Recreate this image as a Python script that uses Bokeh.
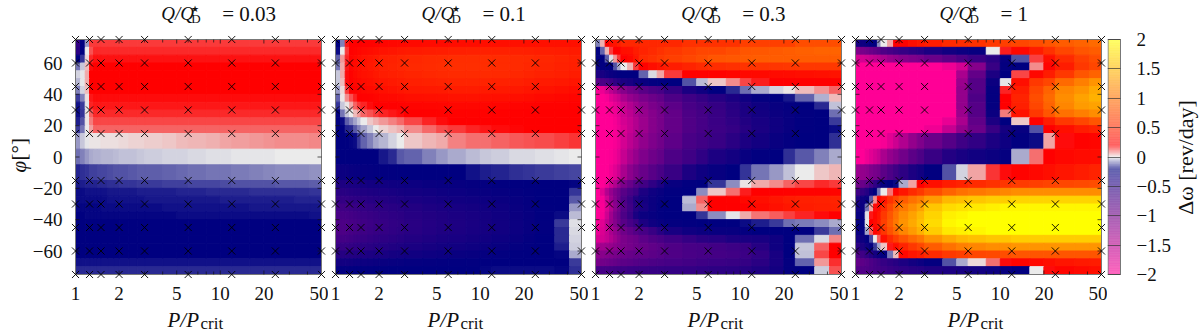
import math
import numpy as np
from bokeh.embed import file_html
from bokeh.layouts import row
from bokeh.models import ColumnDataSource, FixedTicker, Label, LinearColorMapper, Range1d
from bokeh.plotting import figure
from bokeh.resources import INLINE

# simulation nodes
P_nodes = [1, 1.25, 1.5, 2, 3, 6, 12, 24, 50]
phi_nodes = [-75, -60, -45, -30, -15, 15, 30, 45, 60, 75]
x_tick_labels = {1: "1", 2: "2", 5: "5", 10: "10", 20: "20", 50: "50"}
y_tick_labels = {-60: "\u221260", -40: "\u221240", -20: "\u221220", 0: "0", 20: "20", 40: "40", 60: "60"}
cb_tick_labels = {-2: "\u22122", -1.5: "\u22121.5", -1: "\u22121", -0.5: "\u22120.5", 0: "0", 0.5: "0.5", 1: "1", 1.5: "1.5", 2: "2"}
Q_labels = ["0.03", "0.1", "0.3", "1"]

# colour anchors (value, r, g, b)
cm_v = [-2, -0.2, 0, 0.2, 2]
cm_r = [255, 0, 235, 255, 255]
cm_g = [0, 0, 235, 0, 255]
cm_b = [150, 128, 235, 0, 0]

# delta-omega in 1/1000 rev/day, rows from phi=75 (top) to phi=-75, columns from P=1 to P=50
Q003 = [
 [-550,-210,-70]+[150]*21,
 [-500,-200,0,130]+[165]*20,
 [-200,-157,15,165]+[185]*20,
 [-100,-30,40,190]+[200]*20,
 [-20,-5,55,200]+[200]*20,
 [-47,-3,55,200]+[200]*20,
 [-90,-20,40,200]+[200]*20,
 [-150,-90,12,180]+[190]*20,
 [-187,-150,-3,170]+[180]*20,
 [-190,-157,3,120]+[165]*20,
 [-175,-130,3,95]+[140]*20,
 [-150,-100,-2,65]+[115]*20,
 [-72,-30,-4,5,5,5,8,10,12,15,18,20,25,32,38,45,52,58,64,70,74,78,82,85],
 [-106,-89,-72,-55,-52,-50,-47,-44,-41,-37,-33,-30,-26,-22,-18,-15,-11,-8,-6,-4,-3,-2,-1,0],
 [-170,-162,-153,-145,-143,-141,-138,-135,-132,-128,-125,-122,-118,-114,-110,-106,-102,-98,-94,-90,-86,-82,-78,-75],
 [-178,-175,-172,-170,-168,-166,-164,-162,-160,-157,-155,-152,-149,-146,-143,-140,-138,-135,-132,-130,-128,-126,-124,-122],
 [-190,-188,-187,-186,-185,-184,-183,-182,-181,-180,-178,-177,-175,-173,-171,-169,-167,-165,-163,-161,-160,-159,-158,-157],
 [-192,-191,-190,-190,-189,-189,-188,-187,-186,-185,-184,-183,-182,-181,-180,-179,-178,-177,-176,-175,-174,-173,-172,-171],
 [-195,-195,-194,-194,-193,-193,-192,-192,-191,-191,-190,-189,-188,-187,-186,-185,-184,-183,-183,-182,-181,-180,-180,-179],
 [-198,-198,-197,-197,-197,-196,-196,-195,-195,-195,-194,-194,-193,-193,-192,-192,-191,-190,-190,-189,-189,-188,-188,-187],
 [-200]*24,
 [-200]*24,
 [-200]*24,
 [-200]*24,
 [-200]*24,
 [-183]*24,
 [-165]*24,
]
Q01 = [
 [-200,-90,180,200,200,200,210,220,230,240,250,260,270,280,280,290,290,300,300,310,310,320,320,320],
 [-190,0,150,210,230,250,270,290,310,330,350,370,390,400,410,420,430,430,430,430,420,410,400,390],
 [-120,70,170,230,270,300,330,360,390,420,440,460,480,500,510,520,520,520,510,500,490,470,450,430],
 [-100,55,180,230,280,310,340,370,400,430,450,470,490,510,520,530,530,520,510,500,480,460,440,420],
 [-30,55,190,220,270,300,320,340,370,400,420,440,460,480,490,500,500,500,490,480,460,440,420,400],
 [-30,40,190,220,250,270,290,310,340,360,380,400,420,440,450,460,460,450,440,430,410,390,370,350],
 [-65,15,150,200,220,230,250,270,290,310,330,350,370,380,390,400,400,390,380,370,350,330,310,290],
 [-115,5,80,130,170,200,210,220,240,260,270,280,300,310,320,330,330,320,310,300,290,270,250,240],
 [-157,-30,5,55,115,150,170,190,200,205,210,220,230,240,245,250,250,245,240,230,225,220,215,210],
 [-200,-100,-30,0,40,70,115,130,150,170,180,190,205,210,215,220,220,215,210,210,205,205,205,205],
 [-200,-190,-120,-90,-60,-30,0,30,50,70,90,110,140,170,190,200,200,205,205,205,205,205,205,205],
 [-200,-200,-170,-165,-125,-90,-60,-30,0,20,35,50,80,110,135,150,170,180,190,195,200,200,200,200],
 [-200,-200,-200,-195,-190,-150,-115,-90,-60,-45,-20,0,30,45,55,90,105,105,115,125,130,135,145,155],
 [-200]*9+[-180,-165,-125,-115,-90,-72,-55,-38,-30,-25,-17,-13,-9,-4,0],
 [-300,-290,-280,-270,-260,-250,-240,-230,-225,-220,-215,-210,-205,-205,-200,-200,-187,-174,-170,-162,-157,-149,-145,-140],
 [-420,-410,-400,-390,-380,-370,-355,-340,-330,-320,-310,-300,-285,-270,-260,-250,-240,-230,-220,-210,-205,-200,-200,-195],
 [-500,-490,-480,-465,-450,-440,-425,-410,-400,-385,-370,-355,-340,-320,-300,-285,-270,-260,-245,-230,-215,-200,-200,-157],
 [-580,-570,-560,-545,-530,-515,-500,-480,-465,-445,-430,-410,-390,-365,-345,-325,-310,-295,-275,-250,-230,-205,-200,-125],
 [-660,-650,-640,-620,-600,-585,-565,-545,-525,-505,-485,-465,-440,-410,-385,-365,-345,-325,-300,-270,-240,-210,-200,-72],
 [-720,-710,-700,-680,-660,-640,-620,-600,-575,-550,-530,-505,-475,-445,-420,-395,-370,-345,-315,-280,-250,-215,-190,-38],
 [-760,-750,-735,-715,-695,-675,-650,-625,-600,-575,-550,-525,-495,-460,-430,-405,-380,-355,-325,-290,-255,-220,-150,-10],
 [-760,-745,-725,-705,-685,-665,-640,-615,-590,-565,-540,-515,-485,-450,-425,-400,-375,-350,-320,-285,-250,-215,-165,-15],
 [-700,-685,-670,-650,-630,-610,-590,-565,-545,-520,-500,-475,-445,-415,-390,-370,-345,-320,-295,-265,-235,-205,-165,-20],
 [-600,-590,-575,-560,-540,-525,-505,-490,-470,-450,-430,-410,-385,-360,-340,-320,-300,-280,-260,-235,-215,-200,-175,-25],
 [-480,-470,-460,-450,-440,-425,-410,-400,-385,-370,-355,-340,-320,-300,-285,-270,-255,-240,-225,-210,-200,-200,-195,-55],
 [-340,-335,-330,-320,-310,-305,-295,-285,-280,-270,-260,-250,-240,-230,-225,-220,-215,-210,-205,-200,-200,-200,-200,-150],
 [-240,-235,-230,-225,-220,-220,-215,-215,-210,-210,-205,-205,-200,-200,-200,-200,-200,-195,-190,-190,-190,-190,-195,-160],
]
Q03 = [
 [-90,50,200,300,350,400,480,480,480,480,480,480,480,550,550,550,550,650,650,650,650,750,750,750],
 [-200,-115,45,150,200,210,300,320,400,450,500,550,600,650,700,700,750,800,820,840,860,880,900,900],
 [-210,-200,-120,-10,70,150,200,250,350,500,550,600,650,700,750,800,820,840,850,850,850,850,850,850],
 [-250,-215,-200,-200,-130,-60,0,50,150,220,300,350,400,450,500,520,540,560,570,580,590,600,600,600],
 [-400,-370,-310,-280,-260,-230,-200,-200,-200,-115,-15,60,150,210,215,220,240,260,270,280,290,300,320,340],
 [-825,-750,-695,-630,-535,-470,-400,-370,-310,-260,-230,-215,-200,-130,-40,30,80,140,175,200,200,200,205,210],
 [-1975,-1875,-1700,-1535,-1400,-1265,-1140,-1025,-965,-825,-750,-695,-570,-385,-310,-200,-165,-105,-55,-20,5,40,75,115],
 [-2000,-2000,-1950,-1800,-1700,-1600,-1400,-1265,-1175,-1060,-965,-885,-750,-650,-570,-470,-385,-310,-230,-200,-180,-115,-50,40],
 [-2000,-2000,-2000,-1950,-1840,-1750,-1600,-1465,-1335,-1200,-1075,-990,-855,-710,-650,-570,-470,-385,-310,-260,-230,-200,-165,-35],
 [-2000,-2000,-2000,-1975,-1910,-1800,-1650,-1535,-1400,-1265,-1140,-1035,-900,-750,-680,-600,-500,-400,-340,-280,-250,-215,-200,-105],
 [-2000,-2000,-2000,-2000,-1950,-1840,-1700,-1600,-1465,-1305,-1150,-1050,-910,-765,-695,-615,-535,-435,-370,-310,-260,-215,-200,-150],
 [-2000,-2000,-2000,-2000,-1960,-1875,-1750,-1600,-1465,-1305,-1150,-1050,-910,-765,-695,-630,-570,-470,-385,-310,-260,-215,-200,-190],
 [-2000,-2000,-2000,-2000,-1960,-1875,-1700,-1535,-1400,-1225,-1100,-1000,-870,-720,-665,-600,-500,-400,-340,-270,-230,-200,-200,-160],
 [-2000,-2000,-2000,-1975,-1910,-1800,-1600,-1400,-1265,-1100,-990,-900,-750,-650,-535,-400,-340,-260,-215,-200,-160,-125,-90,-55],
 [-2000,-2000,-2000,-1910,-1800,-1650,-1400,-1200,-1075,-940,-825,-720,-600,-400,-310,-250,-200,-157,-100,-72,-33,0,30,45],
 [-2000,-2000,-1875,-1650,-1465,-1265,-1075,-940,-795,-665,-535,-400,-260,-215,-200,-155,-80,5,55,80,115,140,165,150],
 [-2000,-1800,-1465,-1265,-1100,-990,-825,-710,-630,-400,-310,-260,-215,-200,-80,30,105,175,200,205,210,215,220,230],
 [-2000,-1950,-1650,-1335,-1140,-965,-750,-615,-435,-340,-280,-230,-200,-40,115,200,210,250,300,350,400,420,440,450],
 [-2000,-1975,-1750,-1465,-1200,-1025,-795,-650,-470,-370,-280,-215,-200,-55,80,200,200,210,270,320,360,400,420,430],
 [-2000,-1950,-1650,-1335,-1100,-965,-750,-600,-385,-280,-250,-215,-200,-200,-155,-80,-5,55,100,120,145,170,190,200],
 [-1975,-1800,-1535,-1305,-1140,-990,-825,-710,-615,-400,-310,-260,-230,-215,-200,-200,-200,-190,-175,-150,-105,-95,-80,-55],
 [-1875,-1750,-1600,-1400,-1265,-1140,-990,-885,-795,-695,-600,-470,-370,-310,-280,-260,-250,-230,-200,-200,-200,-200,-150,-105],
 [-1750,-1700,-1600,-1465,-1335,-1200,-1075,-1010,-965,-855,-765,-710,-650,-570,-500,-470,-400,-385,-370,-310,-200,-105,-15,85],
 [-1400,-1350,-1300,-1260,-1200,-1140,-1075,-1030,-980,-930,-880,-830,-760,-710,-695,-665,-630,-600,-470,-310,-200,-30,115,200],
 [-1200,-1170,-1130,-1090,-1050,-1010,-960,-930,-900,-880,-850,-810,-760,-720,-700,-680,-660,-620,-540,-370,-200,-35,140,200],
 [-1050,-1010,-980,-950,-920,-890,-850,-830,-800,-770,-740,-720,-700,-670,-640,-620,-600,-570,-500,-370,-230,-115,70,160],
 [-710,-700,-690,-680,-670,-650,-640,-620,-610,-600,-590,-580,-570,-560,-540,-520,-510,-480,-420,-340,-230,-200,-25,130],
]
Q1 = [
 [-350,-300,-250,-220,-200,-80,0,60,200,220,300,350,400,500,520,550,600,650,700,750,800,850,900,950],
 [-1100,-1050,-1000,-950,-900,-850,-750,-700,-650,-580,-520,-480,-400,-330,-290,-250,0,175,250,400,550,700,800,850],
 [-1700,-1700,-1650,-1600,-1550,-1500,-1400,-1300,-1250,-1150,-1100,-1050,-950,-850,-750,-620,-500,-250,-130,145,300,500,650,750],
 [-2000]*13+[-1900,-1700,-1150,-600,-230,-200,80,230,400,600,700],
 [-2000]*14+[-1400,-900,-400,-200,140,250,400,600,800,900],
 [-2000]*14+[-1300,-800,-280,-5,300,600,700,950,1100,1250],
 [-2000]*14+[-1250,-800,-240,170,400,700,900,1150,1250,1400],
 [-2000]*14+[-1250,-750,-230,200,450,750,950,1200,1350,1450],
 [-2000]*14+[-1250,-800,-240,205,420,700,900,1150,1300,1350],
 [-2000]*14+[-1300,-800,-280,95,330,600,800,1000,1100,1200],
 [-2000]*13+[-1850,-1400,-880,-400,-200,30,210,400,600,700,800],
 [-2000]*12+[-1900,-1600,-1250,-950,-600,-350,-250,-130,200,300,400,450],
 [-2000]*6+[-1950,-1800,-1650,-1450,-1250,-1100,-950,-800,-650,-550,-400,-300,-220,-190,60,190,220,240],
 [-2000,-2000,-1900,-1800,-1700,-1600,-1400,-1250,-1150,-1000,-850,-750,-600,-450,-380,-320,-280,-240,-55,105,200,250,280,290],
 [-1300,-1250,-1200,-1100,-1050,-1000,-850,-750,-650,-520,-400,-320,-220,-130,-20,60,155,190,220,260,300,350,400,450],
 [-1000,-950,-850,-700,-550,-400,-250,-200,-190,-55,60,200,300,400,450,500,550,580,620,650,680,700,720,750],
 [-650,-550,-450,-300,-200,-100,0,100,220,350,500,600,750,900,1000,1050,1100,1150]+[1200]*6,
 [-400,-300,-250,-120,80,200,350,550,700,850,1000,1100,1300,1500,1550,1600,1650,1650]+[1700]*6,
 [-320,-280,-100,60,190,280,500,700,900,1050,1200,1350,1600,1750,1800,1850,1900]+[1950]*7,
 [-260,-230,-10,180,250,350,600,800,1000,1200,1350,1500,1700,1900,1950]+[2000]*9,
 [-250,-220,-5,200,280,380,650,850,1050,1250,1400,1550,1750,1950]+[2000]*10,
 [-280,-240,-60,120,220,320,580,780,950,1150,1300,1450,1650,1850,1900,1950]+[2000]*8,
 [-350,-300,-220,-140,0,120,300,500,650,800,950,1050,1250,1400,1500,1550,1600,1600]+[1650]*6,
 [-500,-400,-300,-230,-150,-60,30,180,300,450,600,700,850,1000,1100,1150,1200,1200]+[1250]*6,
 [-750,-650,-550,-450,-350,-280,-220,-100,40,250,350,400,500,600,650,700,720,750]+[800]*6,
 [-900,-850,-800,-750,-700,-650,-580,-520,-480,-400,-340,-290,-230,-130,-55,15,105,190,230,270,300,350,380,400],
 [-800,-780,-760,-730,-700,-680,-640,-600,-570,-530,-490,-470,-430,-400,-370,-340,-300,-260,-220,0,190,230,270,300],
]
panels = [Q003, Q01, Q03, Q1]
for m in panels:
    assert len(m) == 27, len(m)
    for i, r in enumerate(m):
        assert len(r) == 24, (i, len(r))

FONT = "Liberation Serif"
INK = "#111111"
EDGE = "#777777"

levels = np.linspace(-2, 2, 801)
palette = ["#%02x%02x%02x" % (int(np.interp(v, cm_v, cm_r)), int(np.interp(v, cm_v, cm_g)), int(np.interp(v, cm_v, cm_b))) for v in levels]
mapper = LinearColorMapper(palette=palette, low=-2, high=2)

# cell edges: every interval between nodes is split in three
x_edges = []
for a, b in zip(P_nodes[:-1], P_nodes[1:]):
    x_edges += [a + (b - a) * k / 3 for k in range(3)]
x_edges.append(P_nodes[-1])
y_edges = []
for a, b in zip(phi_nodes[:-1], phi_nodes[1:]):
    y_edges += [a + (b - a) * k / 3 for k in range(3)]
y_edges.append(phi_nodes[-1])
y_edges = y_edges[::-1]

# the frame of every figure fills the figure, so crosses and texts outside the heat map are not clipped
FIG_H = 333
PANEL_W, PANEL_H = 246, 235
PANEL_TOP, PANEL_BELOW = 39, 59
dec = math.log10(50) / PANEL_W
dy = 150 / PANEL_H
yr = (-75 - PANEL_BELOW * dy, 75 + PANEL_TOP * dy)

fig_w = [328, 260, 260, 259]
inset_l = [75, 7, 7, 7]
inset_r = [7, 7, 7, 6]
title_left = [160.7, 93, 92.7, 91]
xlabel_left = [167, 99, 99, 99]


def text(p, x, y, s, size, style="normal", angle=0.0, align="left", base="middle"):
    p.add_layout(Label(x=x, y=FIG_H - y, x_units="screen", y_units="screen", text=s, text_font=FONT,
                       text_font_size=f"{size}px", text_font_style=style, text_color=INK,
                       text_align=align, text_baseline=base, angle=angle))


figs = []
for i, m in enumerate(panels):
    xr = (10 ** (-inset_l[i] * dec), 50 * 10 ** (inset_r[i] * dec))
    p = figure(width=fig_w[i], height=FIG_H, x_axis_type="log", x_range=Range1d(*xr), y_range=Range1d(*yr),
               output_backend="svg", toolbar_location=None, min_border=0)
    p.outline_line_color = None
    p.grid.visible = False
    lefts, rights, tops, bottoms, vals = [], [], [], [], []
    for r, rowv in enumerate(m):
        for c, v in enumerate(rowv):
            lefts.append(x_edges[c]); rights.append(x_edges[c + 1])
            tops.append(y_edges[r]); bottoms.append(y_edges[r + 1]); vals.append(v / 1000)
    src = ColumnDataSource(dict(left=lefts, right=rights, top=tops, bottom=bottoms, v=vals))
    col = {"field": "v", "transform": mapper}
    p.quad(left="left", right="right", top="top", bottom="bottom", source=src, fill_color=col, line_color=col, line_width=1)
    p.quad(left=[P_nodes[0]], right=[P_nodes[-1]], top=[phi_nodes[-1]], bottom=[phi_nodes[0]], fill_color=None, line_color=EDGE, line_width=1)
    # tics
    minor = [3, 4, 6, 7, 8, 9, 30, 40]
    major = [2, 5, 10, 20]
    tx, tl = minor + major, [3] * len(minor) + [4] * len(major)
    p.segment(x0=tx, x1=tx, y0=[75] * len(tx), y1=[75 - t * dy for t in tl], line_color=INK, line_width=0.7)
    p.segment(x0=tx, x1=tx, y0=[-75] * len(tx), y1=[-75 + t * dy for t in tl], line_color=INK, line_width=0.7)
    yt = [k for k in y_tick_labels]
    p.segment(x0=[1] * len(yt), x1=[10 ** (4 * dec)] * len(yt), y0=yt, y1=yt, line_color=INK, line_width=0.7)
    p.segment(x0=[50] * len(yt), x1=[50 * 10 ** (-4 * dec)] * len(yt), y0=yt, y1=yt, line_color=INK, line_width=0.7)
    # sample points
    xs = [a for _ in phi_nodes for a in P_nodes]
    ys = [b for b in phi_nodes for _ in P_nodes]
    p.scatter(xs, ys, marker="x", size=10, line_color="#000000", line_width=0.9, fill_color=None)
    # axes
    ax = p.xaxis[0]
    ax.fixed_location = -75
    ax.ticker = FixedTicker(ticks=list(x_tick_labels))
    ax.major_label_overrides = x_tick_labels
    ax.axis_line_color = None; ax.major_tick_line_color = None; ax.minor_tick_line_color = None
    ax.major_label_standoff = 6
    ax.major_label_text_font = FONT; ax.major_label_text_font_size = "19px"; ax.major_label_text_color = INK
    ay = p.yaxis[0]
    if i == 0:
        ay.fixed_location = 1
        ay.ticker = FixedTicker(ticks=list(y_tick_labels))
        ay.major_label_overrides = y_tick_labels
        ay.axis_line_color = None; ay.major_tick_line_color = None; ay.minor_tick_line_color = None
        ay.major_label_standoff = 7
        ay.major_label_text_font = FONT; ay.major_label_text_font_size = "19px"; ay.major_label_text_color = INK
        text(p, 18, 172, "\u03c6", 21, "italic", math.pi / 2)
        text(p, 18, 160, "[\u00b0]", 21, "normal", math.pi / 2)
    else:
        ay.visible = False
    # title
    t0 = title_left[i]
    text(p, t0, 13, "Q/Q", 19, "italic")
    text(p, t0 + 30, 8, "\u2605", 9)
    text(p, t0 + 30, 18, "D", 13)
    text(p, t0 + 61, 13, "= " + Q_labels[i], 21)
    # x label
    x0 = xlabel_left[i]
    text(p, x0, 319, "P/P", 21, "italic")
    text(p, x0 + 33, 323, "crit", 17)
    figs.append(p)

cb_dy = 4 / PANEL_H
cb = figure(width=93, height=FIG_H, x_range=Range1d(0, 93), y_range=Range1d(-2 - PANEL_BELOW * cb_dy, 2 + PANEL_TOP * cb_dy),
            output_backend="svg", toolbar_location=None, min_border=0, y_axis_location="right")
cb.outline_line_color = None
cb.grid.visible = False
cb.xaxis.visible = False
cb_src = ColumnDataSource(dict(b=levels[:-1], t=levels[1:], v=(levels[:-1] + levels[1:]) / 2))
cb_col = {"field": "v", "transform": mapper}
cb.quad(left=0.5, right=13, bottom="b", top="t", source=cb_src, fill_color=cb_col, line_color=None, fill_alpha=0.8)
cb.quad(left=[0.5], right=[13], bottom=[-2], top=[2], fill_color=None, line_color=EDGE, line_width=1)
a = cb.yaxis[0]
a.fixed_location = 13
a.ticker = FixedTicker(ticks=list(cb_tick_labels))
a.major_label_overrides = {k: "" for k in cb_tick_labels}
a.axis_line_color = None; a.minor_tick_line_color = None
a.major_tick_in = 13; a.major_tick_out = 0; a.major_tick_line_color = "#333333"; a.major_tick_line_width = 0.7
for v, s in cb_tick_labels.items():
    cb.add_layout(Label(x=29, y=v, x_units="screen", y_units="data", text=s, text_font=FONT, text_font_size="19px",
                        text_color=INK, text_align="left", text_baseline="middle"))
text(cb, 78, 157, "\u0394\u03c9 [rev/day]", 22, "normal", math.pi / 2, "center")
figs.append(cb)

page = row(*figs, spacing=0)
open("out.html", "w").write(file_html(page, INLINE))
